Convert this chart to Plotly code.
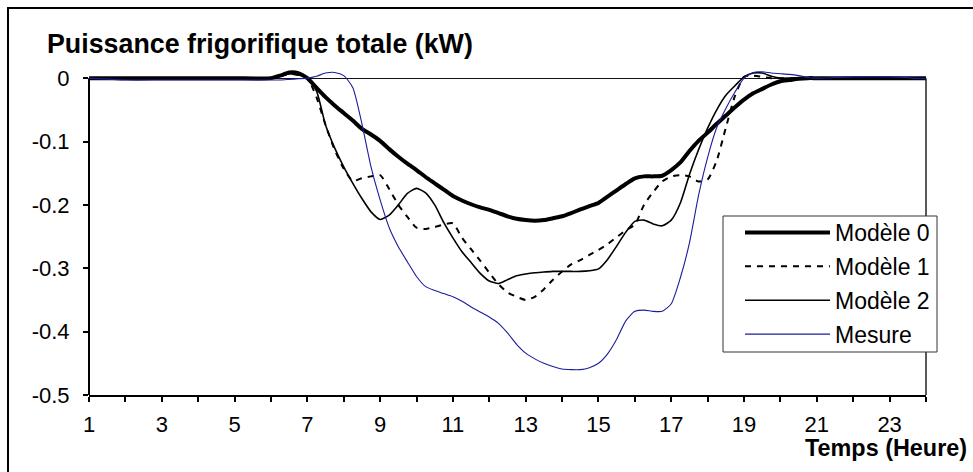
import plotly.graph_objects as go

# ---------------- data ----------------
hours = [1, 2, 3, 4, 5, 6, 6.25, 6.5, 6.75, 7, 7.25, 7.5, 7.75, 8, 8.25, 8.5, 8.75,
         9, 9.25, 9.5, 9.75, 10, 10.25, 10.5, 10.75, 11, 11.25, 11.5, 11.75,
         12, 12.25, 12.5, 12.75, 13, 13.25, 13.5, 13.75, 14, 14.25, 14.5, 14.75,
         15, 15.25, 15.5, 15.75, 16, 16.25, 16.5, 16.75, 17, 17.25, 17.5, 17.75,
         18, 18.25, 18.5, 18.75, 19, 19.25, 19.5, 19.75, 20, 20.25, 20.5, 20.75,
         21, 22, 23, 24]

modele_0 = [0, 0, 0, 0, 0, 0, 0.004, 0.009, 0.008, 0, -0.015, -0.030, -0.043, -0.055, -0.067, -0.080, -0.089,
            -0.099, -0.112, -0.124, -0.135, -0.145, -0.156, -0.166, -0.176, -0.186, -0.193, -0.199, -0.204,
            -0.208, -0.213, -0.218, -0.222, -0.224, -0.225, -0.224, -0.221, -0.218, -0.213, -0.207, -0.202,
            -0.197, -0.187, -0.177, -0.167, -0.158, -0.155, -0.155, -0.154, -0.145, -0.133, -0.115, -0.099,
            -0.086, -0.072, -0.059, -0.046, -0.034, -0.024, -0.017, -0.010, -0.005, -0.003, -0.001, 0,
            0, 0, 0, 0]

modele_1 = [0, 0, 0, 0, 0, 0, 0.003, 0.007, 0.005, 0, -0.030, -0.074, -0.113, -0.143, -0.162, -0.158, -0.155,
            -0.153, -0.175, -0.200, -0.219, -0.236, -0.238, -0.235, -0.231, -0.229, -0.252, -0.270, -0.288,
            -0.307, -0.325, -0.338, -0.345, -0.350, -0.345, -0.333, -0.318, -0.305, -0.294, -0.287, -0.279,
            -0.271, -0.262, -0.251, -0.240, -0.231, -0.200, -0.180, -0.163, -0.155, -0.153, -0.155, -0.163,
            -0.160, -0.130, -0.078, -0.028, 0.002, 0.004, 0.002, 0, 0, 0, 0, 0,
            0, 0, 0, 0]

modele_2 = [0, 0, 0, 0, 0, 0, 0.003, 0.007, 0.005, 0, -0.020, -0.074, -0.110, -0.140, -0.166, -0.190, -0.211,
            -0.223, -0.216, -0.200, -0.182, -0.174, -0.181, -0.200, -0.228, -0.252, -0.274, -0.291, -0.308,
            -0.320, -0.324, -0.318, -0.312, -0.309, -0.307, -0.306, -0.305, -0.305, -0.305, -0.305, -0.304,
            -0.301, -0.286, -0.265, -0.243, -0.226, -0.224, -0.230, -0.233, -0.224, -0.197, -0.152, -0.113,
            -0.079, -0.050, -0.027, -0.012, 0.002, 0.008, 0.008, 0.003, 0, 0, 0, 0,
            0, 0, 0, 0]

mesure = [0, -0.003, -0.003, -0.003, -0.003, -0.003, -0.003, -0.002, -0.001, 0, 0.003, 0.008, 0.009, 0.004, -0.015, -0.072, -0.140,
          -0.192, -0.236, -0.266, -0.290, -0.313, -0.329, -0.335, -0.340, -0.345, -0.352, -0.361, -0.369,
          -0.377, -0.387, -0.402, -0.420, -0.434, -0.443, -0.450, -0.455, -0.459, -0.460, -0.460, -0.457,
          -0.450, -0.435, -0.412, -0.383, -0.368, -0.366, -0.368, -0.368, -0.356, -0.315, -0.260, -0.185,
          -0.125, -0.078, -0.048, -0.022, 0, 0.009, 0.010, 0.008, 0.007, 0.006, 0.004, 0.001,
          0, 0.002, 0.002, -0.001]

series_names = ["Modèle 0", "Modèle 1", "Modèle 2", "Mesure"]

x_tick_vals = list(range(1, 25))
x_tick_text = [str(v) if v % 2 == 1 else "" for v in x_tick_vals]
y_tick_vals = [0, -0.1, -0.2, -0.3, -0.4, -0.5]
y_tick_text = ["0", "-0.1", "-0.2", "-0.3", "-0.4", "-0.5"]

chart_title = "Puissance frigorifique totale (kW)"
x_title = "Temps (Heure)"

# ---------------- figure ----------------
FONT = "Liberation Sans, Arial, sans-serif"
fig = go.Figure()

styles = [
    dict(color="black", width=4),
    dict(color="black", width=2, dash="6px,6px"),
    dict(color="black", width=1.6),
    dict(color="#1c1c9c", width=1.1),
]
for name, vals, st in zip(series_names, [modele_0, modele_1, modele_2, mesure], styles):
    fig.add_trace(go.Scatter(x=hours, y=vals, mode="lines", name=name,
                             line=dict(shape="spline", smoothing=0.6, **st),
                             legendgroup=name))

W, H = 973, 472
L, R, T, B = 89, 47, 68, 77
pw, ph = W - L - R, H - T - B

def px2paper_x(px):
    return (px - L) / pw

def px2paper_y(py):
    return (H - B - py) / ph

fig.update_layout(
    width=W, height=H, autosize=False,
    margin=dict(l=L, r=R, t=T, b=B),
    paper_bgcolor="white", plot_bgcolor="white",
    font=dict(family=FONT, color="black"),
    showlegend=True,
    legend=dict(
        x=px2paper_x(740), y=px2paper_y(211), xanchor="left", yanchor="top",
        bgcolor="rgba(0,0,0,0)", borderwidth=0,
        font=dict(size=23, family=FONT, color="black"),
        itemwidth=85, tracegroupgap=1,
    ),
    xaxis=dict(
        range=[1, 24], tickmode="array", tickvals=x_tick_vals, ticktext=x_tick_text,
        ticks="outside", ticklen=5, tickwidth=1.5, tickcolor="black",
        showline=True, linecolor="black", linewidth=2,
        showgrid=False, zeroline=False,
        tickfont=dict(size=22, family=FONT, color="black"),
        ticklabelstandoff=4,
    ),
    yaxis=dict(
        range=[-0.5, 0.016], tickmode="array", tickvals=y_tick_vals, ticktext=y_tick_text,
        ticks="outside", ticklen=5, tickwidth=1.5, tickcolor="black",
        showline=False, showgrid=False,
        zeroline=True, zerolinecolor="#111", zerolinewidth=1.4,
        tickfont=dict(size=22, family=FONT, color="black"),
        ticklabelstandoff=9,
    ),
    shapes=[
        # y axis line (from -0.5 to 0 only)
        dict(type="line", xref="paper", yref="y", x0=0, x1=0, y0=-0.5, y1=0,
             line=dict(color="black", width=2)),
        # right border of plot area
        dict(type="line", xref="paper", yref="y", x0=1, x1=1, y0=-0.5, y1=0,
             line=dict(color="#222", width=1.5)),
        # legend frame
        dict(type="rect", xref="paper", yref="paper",
             x0=px2paper_x(723), x1=px2paper_x(937), y0=px2paper_y(352), y1=px2paper_y(216),
             line=dict(color="#333", width=1), fillcolor="white"),
        # outer chart frame: left and top edges (right/bottom lie outside the picture)
        dict(type="line", xref="paper", yref="paper",
             x0=px2paper_x(8), x1=px2paper_x(8), y0=px2paper_y(472), y1=px2paper_y(7),
             line=dict(color="black", width=2)),
        dict(type="line", xref="paper", yref="paper",
             x0=px2paper_x(7), x1=px2paper_x(973), y0=px2paper_y(8), y1=px2paper_y(8),
             line=dict(color="black", width=2)),
    ],
    annotations=[
        dict(text="<b>" + chart_title + "</b>", xref="paper", yref="paper",
             x=px2paper_x(45), y=px2paper_y(43.5), xanchor="left", yanchor="middle",
             showarrow=False, font=dict(size=26.8, family=FONT, color="black")),
        dict(text="<b>" + x_title + "</b>", xref="paper", yref="paper",
             x=px2paper_x(969), y=px2paper_y(448), xanchor="right", yanchor="middle",
             showarrow=False, font=dict(size=23.4, family=FONT, color="black")),
    ],
)

fig.write_html("out.html", config={"displayModeBar": False},
               post_script="document.body.style.margin='0px';")
